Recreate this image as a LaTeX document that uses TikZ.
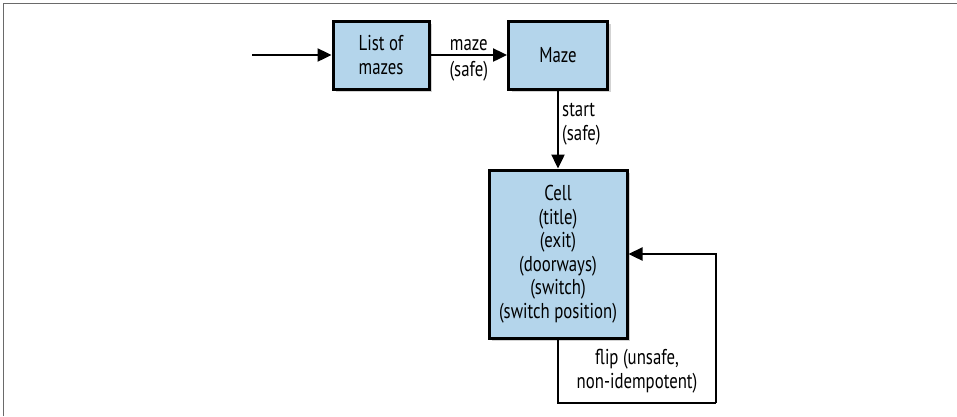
\documentclass[tikz,border=0pt]{standalone}
\usepackage{fontspec}
\setmainfont[FakeStretch=0.78]{PT Sans}
\usetikzlibrary{arrows.meta,shadows}

\definecolor{boxblue}{HTML}{B4D5EB}
\definecolor{framegray}{HTML}{6A6A6A}

\tikzset{
  etat/.style={draw=black,line width=3pt,fill=boxblue,align=center,
    inner sep=0pt,font=\fontsize{21.5}{23.5}\selectfont,
    drop shadow={shadow xshift=3pt,shadow yshift=-3pt,opacity=0.35}},
  fleche/.style={line width=2.4pt,-{Triangle[length=14pt,width=13pt]}},
  legende/.style={font=\fontsize{21.5}{24.5}\selectfont,inner sep=1pt}
}

\begin{document}
\begin{tikzpicture}[x=1pt,y=-1pt]

\useasboundingbox (0,0) rectangle (957,416) ;

% cadre
\draw[framegray,line width=1.8pt] (3.5,416) -- (3.5,3.5) -- (957,3.5) ;

% boites
\node[etat,minimum width=96pt,minimum height=68pt] (liste) at (381,55) {List of\\mazes} ;
\node[etat,minimum width=99pt,minimum height=68pt] (maze) at (558,55) {Maze} ;
\node[etat,minimum width=138pt,minimum height=168pt] (cell) at (558,254)
  {Cell\\(title)\\(exit)\\(doorways)\\(switch)\\(switch position)} ;

% fleches
\coordinate (entree) at (252,55) ;
\coordinate (retour) at (716,403) ;

\draw[fleche] (entree) -- (liste) ;
\draw[fleche] (liste) -- (maze)
  node[legende,midway,above,yshift=2pt] {maze}
  node[legende,midway,below,yshift=-4pt] {(safe)} ;
\draw[fleche] (maze) -- (cell) ;
\node[legende,anchor=west,align=left] (startlbl) at (561,124) {start\\(safe)} ;

% boucle flip
\draw[line width=2.4pt] (cell.south) |- (retour) ;
\draw[fleche] (retour) |- (cell.east) ;
\node[legende,align=center] (fliplbl) at (637,371) {flip (unsafe,\\non-idempotent)} ;

\end{tikzpicture}
\end{document}
